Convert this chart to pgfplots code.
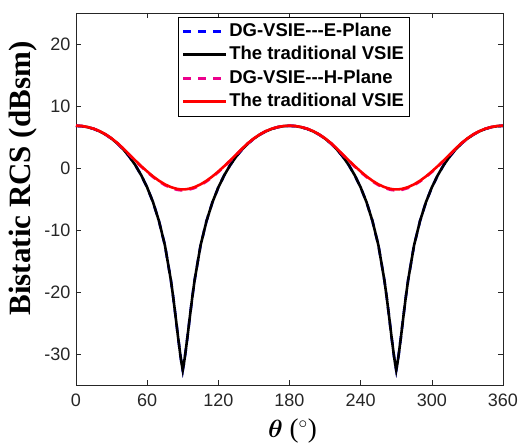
\documentclass[border=0pt]{standalone}
\usepackage{amsmath}
\usepackage{fontspec}
\setmainfont{Liberation Sans}
\newfontfamily\timesfont{Liberation Serif}
\usepackage{pgfplots}
\usepackage{pgfplotstable}
\pgfplotsset{compat=1.18}
\pgfplotstableread{
t E H Hd
0 6.80 6.82 6.82
5 6.75 6.77 6.77
10 6.58 6.60 6.60
15 6.30 6.33 6.33
20 5.91 5.94 5.94
25 5.39 5.42 5.40
30 4.74 4.78 4.75
35 3.94 4.02 3.98
40 2.98 3.12 3.07
45 1.83 2.18 2.12
50 0.47 1.22 1.14
55 -1.17 0.30 0.21
60 -3.13 -0.56 -0.66
65 -5.54 -1.36 -1.47
70 -8.58 -2.06 -2.18
75 -12.5 -2.64 -2.77
80 -18.1 -3.08 -3.22
82 -20.9 -3.20 -3.34
84 -24.0 -3.30 -3.45
85 -25.6 -3.36 -3.51
86 -27.2 -3.39 -3.54
87 -28.7 -3.42 -3.57
88 -30.2 -3.44 -3.59
89 -31.5 -3.45 -3.60
90 -32.6 -3.45 -3.60
91 -31.5 -3.45 -3.60
92 -30.2 -3.44 -3.59
93 -28.7 -3.42 -3.57
94 -27.2 -3.39 -3.54
95 -25.6 -3.36 -3.51
96 -24.0 -3.30 -3.45
98 -20.9 -3.20 -3.34
100 -18.1 -3.08 -3.22
105 -12.5 -2.64 -2.77
110 -8.58 -2.06 -2.18
115 -5.54 -1.36 -1.47
120 -3.13 -0.56 -0.66
125 -1.17 0.30 0.21
130 0.47 1.22 1.14
135 1.83 2.18 2.12
140 2.98 3.12 3.07
145 3.94 4.02 3.98
150 4.74 4.78 4.75
155 5.39 5.42 5.40
160 5.91 5.94 5.94
165 6.30 6.33 6.33
170 6.58 6.60 6.60
175 6.75 6.77 6.77
180 6.80 6.82 6.82
185 6.75 6.77 6.77
190 6.58 6.60 6.60
195 6.30 6.33 6.33
200 5.91 5.94 5.94
205 5.39 5.42 5.40
210 4.74 4.78 4.75
215 3.94 4.02 3.98
220 2.98 3.12 3.07
225 1.83 2.18 2.12
230 0.47 1.22 1.14
235 -1.17 0.30 0.21
240 -3.13 -0.56 -0.66
245 -5.54 -1.36 -1.47
250 -8.58 -2.06 -2.18
255 -12.5 -2.64 -2.77
260 -18.1 -3.08 -3.22
262 -20.9 -3.20 -3.34
264 -24.0 -3.30 -3.45
265 -25.6 -3.36 -3.51
266 -27.2 -3.39 -3.54
267 -28.7 -3.42 -3.57
268 -30.2 -3.44 -3.59
269 -31.5 -3.45 -3.60
270 -32.6 -3.45 -3.60
271 -31.5 -3.45 -3.60
272 -30.2 -3.44 -3.59
273 -28.7 -3.42 -3.57
274 -27.2 -3.39 -3.54
275 -25.6 -3.36 -3.51
276 -24.0 -3.30 -3.45
278 -20.9 -3.20 -3.34
280 -18.1 -3.08 -3.22
285 -12.5 -2.64 -2.77
290 -8.58 -2.06 -2.18
295 -5.54 -1.36 -1.47
300 -3.13 -0.56 -0.66
305 -1.17 0.30 0.21
310 0.47 1.22 1.14
315 1.83 2.18 2.12
320 2.98 3.12 3.07
325 3.94 4.02 3.98
330 4.74 4.78 4.75
335 5.39 5.42 5.40
340 5.91 5.94 5.94
345 6.30 6.33 6.33
350 6.58 6.60 6.60
355 6.75 6.77 6.77
360 6.80 6.82 6.82
}\rcs
\begin{document}
\begin{tikzpicture}
\path[use as bounding box] (-76pt,-59pt) rectangle (452pt,385pt);
\begin{axis}[
  at={(0pt,0pt)}, anchor=south west,
  scale only axis,
  width=427pt, height=372pt,
  xmin=0, xmax=360, ymin=-35, ymax=25,
  xtick={0,60,...,360}, ytick={-30,-20,...,20},
  tick align=inside,
  major tick length=5pt,
  tick style={black!85, line width=0.6pt},
  axis line style={black!85, line width=0.7pt},
  /pgf/number format/assume math mode=true,
  ticklabel style={font=\fontsize{18}{20}\selectfont, text=black!85},
  xticklabel style={yshift=-5pt},
  yticklabel style={xshift=-2pt},
  xlabel={\timesfont\fontsize{27}{29}\selectfont $\boldsymbol{\theta}$ ($^{\circ}$)},
  ylabel={\timesfont\bfseries\fontsize{31}{33}\selectfont Bistatic RCS (dBsm)},
  xlabel style={at={(axis description cs:0.507,-0.125)}, anchor=center},
  ylabel style={at={(axis description cs:-0.124,0.555)}, anchor=center},
  legend style={at={(0.51,0.99)}, anchor=north, font=\bfseries\fontsize{18.5}{22}\selectfont,
    draw=black, line width=0.6pt, inner xsep=4pt, inner ysep=4pt, row sep=3pt,
    nodes={inner sep=1.5pt, text height=13.5pt, text depth=4pt}},
  legend cell align=left,
  legend image code/.code={\draw[#1, line width=2.8pt] (0pt,0pt) -- (43pt,0pt);},
]
\addplot[blue, line width=2.6pt, dash pattern=on 8pt off 7pt] table[x=t, y=E] {\rcs};
\addlegendentry{DG-VSIE{-}{-}{-}E-Plane}
\addplot[black, line width=2.6pt] table[x=t, y=E] {\rcs};
\addlegendentry{The traditional VSIE}
\addplot[magenta, line width=2.6pt, dash pattern=on 8pt off 7pt] table[x=t, y=Hd] {\rcs};
\addlegendentry{DG-VSIE{-}{-}{-}H-Plane}
\addplot[red, line width=2.6pt] table[x=t, y=H] {\rcs};
\addlegendentry{The traditional VSIE}
\end{axis}
\end{tikzpicture}
\end{document}
